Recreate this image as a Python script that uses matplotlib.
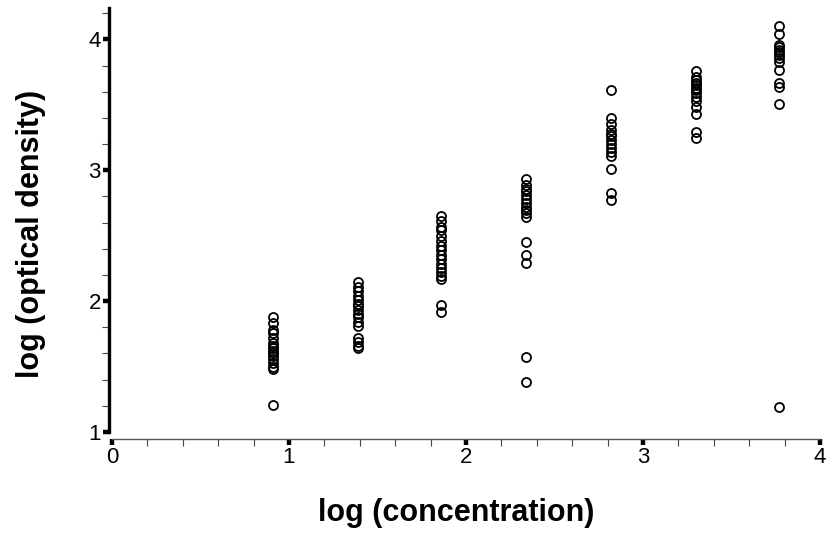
import matplotlib.pyplot as plt
from matplotlib.ticker import MultipleLocator

plt.rcParams['font.family'] = ['Liberation Sans', 'DejaVu Sans']

# log concentration for each dilution step
conc = [0.91, 1.39, 1.86, 2.34, 2.82, 3.30, 3.77]

# log optical density readings per step
od_1 = [1.88, 1.83, 1.78, 1.76, 1.72, 1.68, 1.66, 1.64, 1.62, 1.60, 1.58, 1.56, 1.53, 1.50, 1.48, 1.21]
od_2 = [2.15, 2.11, 2.08, 2.04, 2.01, 1.98, 1.96, 1.93, 1.90, 1.88, 1.84, 1.81, 1.72, 1.69, 1.66, 1.64]
od_3 = [2.65, 2.61, 2.57, 2.54, 2.50, 2.46, 2.42, 2.39, 2.35, 2.32, 2.28, 2.25, 2.22, 2.19, 2.17, 1.97, 1.92]
od_4 = [2.93, 2.89, 2.86, 2.84, 2.81, 2.78, 2.75, 2.72, 2.70, 2.67, 2.64, 2.45, 2.35, 2.29, 1.57, 1.38]
od_5 = [3.61, 3.40, 3.35, 3.31, 3.28, 3.26, 3.23, 3.20, 3.17, 3.14, 3.11, 3.01, 2.83, 2.77]
od_6 = [3.76, 3.71, 3.69, 3.67, 3.65, 3.63, 3.61, 3.59, 3.56, 3.53, 3.48, 3.43, 3.29, 3.25]
od_7 = [4.10, 4.04, 3.96, 3.94, 3.92, 3.90, 3.88, 3.86, 3.83, 3.77, 3.67, 3.64, 3.51, 1.19]

readings = [od_1, od_2, od_3, od_4, od_5, od_6, od_7]

fig = plt.figure(figsize=(8.27, 5.42), dpi=100)
ax = fig.add_axes([112 / 827, 1 - 432 / 542, 708 / 827, 424 / 542])

for x, ys in zip(conc, readings):
    ax.plot([x] * len(ys), ys, linestyle='none', marker='o', markersize=6.5,
            markerfacecolor='none', markeredgecolor='black', markeredgewidth=1.3)

ax.set_xlim(0, 4)
ax.set_ylim(1, 4.24)

for side in ('top', 'right'):
    ax.spines[side].set_visible(False)
ax.spines['left'].set_linewidth(2.4)
ax.spines['left'].set_position(('outward', 2))
ax.spines['left'].set_bounds(1, 4.24)
ax.spines['bottom'].set_linewidth(1.0)
ax.spines['bottom'].set_color('#555555')
ax.spines['bottom'].set_position(('outward', 5))

ax.xaxis.set_major_locator(MultipleLocator(1))
ax.xaxis.set_minor_locator(MultipleLocator(0.2))
ax.yaxis.set_major_locator(MultipleLocator(1))
ax.yaxis.set_minor_locator(MultipleLocator(0.2))

ax.tick_params(which='major', direction='out', length=4, width=3.2, labelsize=16, pad=2)
ax.tick_params(which='minor', direction='out', length=5, width=0.8, color='#444444')

fig.text(456 / 827, 1 - 513 / 542, 'log (concentration)', ha='center', va='center',
         fontsize=22, fontweight='bold')
fig.text(31 / 827, 1 - 234 / 542, 'log (optical density)', ha='center', va='center',
         rotation=90, fontsize=22, fontweight='bold')

fig.savefig('out.png', dpi=100)
